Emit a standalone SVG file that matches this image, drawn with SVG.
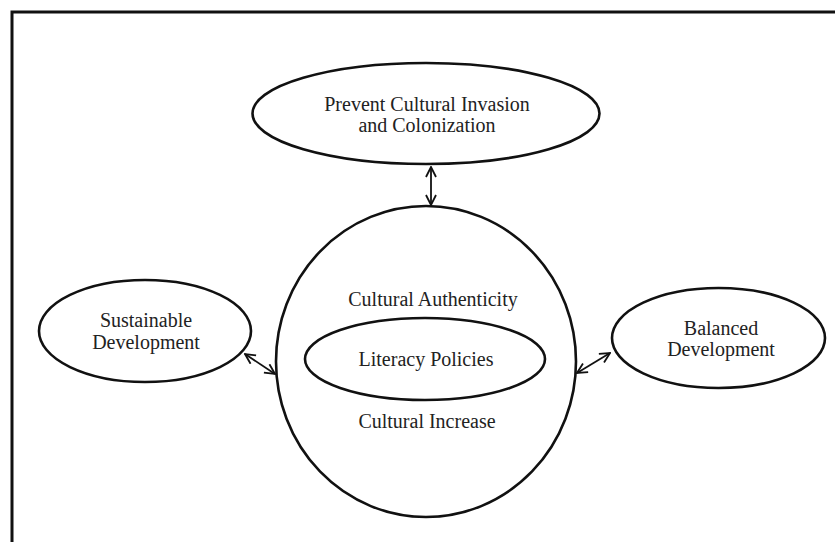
<svg xmlns="http://www.w3.org/2000/svg" width="835" height="542" viewBox="0 0 835 542">
<defs>
<marker id="ah" viewBox="0 0 12 12" refX="11" refY="6" markerWidth="12" markerHeight="12" markerUnits="userSpaceOnUse" orient="auto-start-reverse">
<path d="M1,1 L11,6 L1,11" fill="none" stroke="#111" stroke-width="1.8"/>
</marker>
<style>
.node{fill:#fff;stroke:#111;stroke-width:2.6}
.t{font-family:"Liberation Serif","Times New Roman",serif;font-size:20px;fill:#222;text-anchor:middle}
.c{stroke:#111;stroke-width:1.8;fill:none;marker-start:url(#ah);marker-end:url(#ah)}
</style>
</defs>
<rect width="835" height="542" fill="#fff"/>
<path d="M12,545 L12,12 L840,12" fill="none" stroke="#111" stroke-width="3"/>
<g id="connectors">
<line class="c" x1="431" y1="167" x2="431" y2="205"/>
<line class="c" x1="245" y1="354" x2="275" y2="374"/>
<line class="c" x1="577" y1="373" x2="610" y2="353"/>
</g>
<g id="prevent">
<ellipse class="node" cx="426" cy="113.5" rx="173.5" ry="50.5"/>
<text class="t" x="427" y="111">Prevent Cultural Invasion</text>
<text class="t" x="427" y="132">and Colonization</text>
</g>
<g id="center">
<ellipse class="node" cx="426" cy="361.5" rx="150" ry="155.5"/>
<text class="t" x="433" y="306">Cultural Authenticity</text>
<text class="t" x="427" y="428">Cultural Increase</text>
</g>
<g id="literacy">
<ellipse class="node" cx="425" cy="359" rx="120" ry="41"/>
<text class="t" x="426" y="366">Literacy Policies</text>
</g>
<g id="sustainable">
<ellipse class="node" cx="145" cy="331" rx="106" ry="51"/>
<text class="t" x="146" y="327">Sustainable</text>
<text class="t" x="146" y="349">Development</text>
</g>
<g id="balanced">
<ellipse class="node" cx="718.5" cy="338" rx="106.5" ry="50"/>
<text class="t" x="721" y="335">Balanced</text>
<text class="t" x="721" y="356">Development</text>
</g>
</svg>
